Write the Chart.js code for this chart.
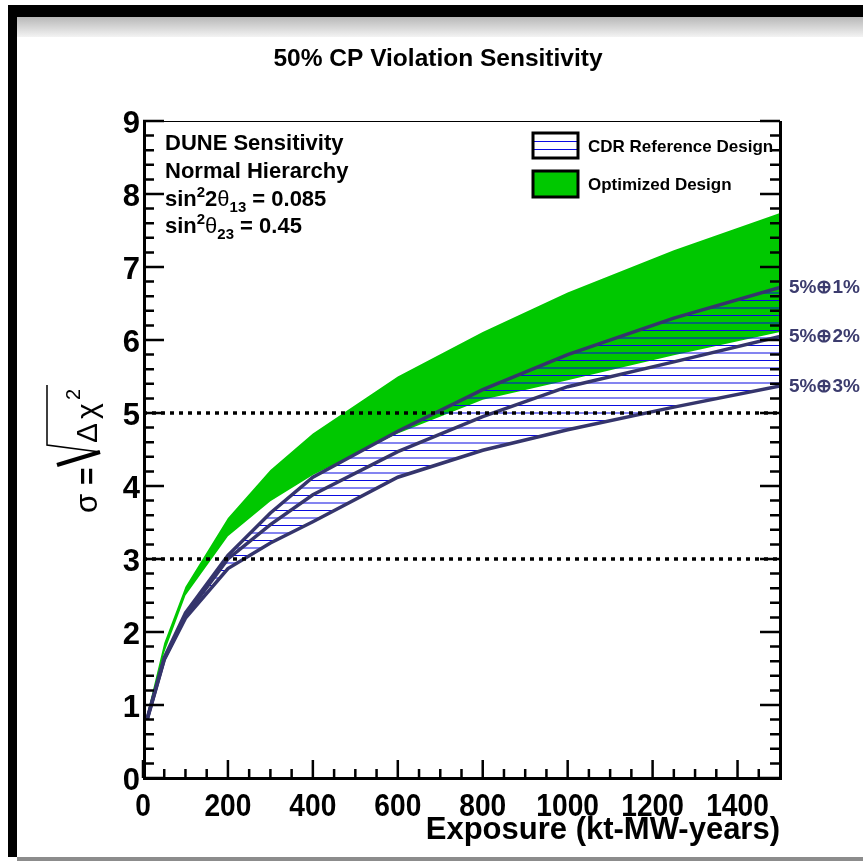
<!DOCTYPE html>
<html>
<head>
<meta charset="utf-8">
<script src="https://cdn.jsdelivr.net/npm/chart.js@4.4.1/dist/chart.umd.min.js"></script>
<style>
  html, body { margin: 0; padding: 0; background: #fff; }
</style>
</head>
<body>
<canvas id="chart" width="863" height="865"></canvas>
<script>
// exposure in kt-MW-years
const exposure = [10, 50, 100, 200, 300, 400, 600, 800, 1000, 1250, 1500];
// CDR reference design, three systematics assumptions
const cdr1 = [0.82, 1.65, 2.26, 3.05, 3.63, 4.12, 4.75, 5.32, 5.80, 6.30, 6.72];
const cdr2 = [0.81, 1.63, 2.22, 3.00, 3.47, 3.88, 4.47, 4.95, 5.36, 5.70, 6.05];
const cdr3 = [0.80, 1.62, 2.19, 2.87, 3.22, 3.51, 4.12, 4.49, 4.77, 5.08, 5.37];
// optimized design band
const optHigh = [0.88, 1.85, 2.62, 3.56, 4.22, 4.72, 5.50, 6.11, 6.65, 7.23, 7.74];
const optLow = [0.85, 1.72, 2.50, 3.31, 3.79, 4.15, 4.72, 5.18, 5.45, 5.79, 6.11];
// dotted reference levels
const refLevels = [3, 5];
const xTicks = [0, 200, 400, 600, 800, 1000, 1200, 1400];
const yTicks = [0, 1, 2, 3, 4, 5, 6, 7, 8, 9];
const curveLabels = ['5%\u22951%', '5%\u22952%', '5%\u22953%'];

const NAVY = '#35356c';
const GREEN = '#00c800';
const HATCH = 'rgb(10,10,225)';
const FONT = '"Liberation Sans", Arial, Helvetica, sans-serif';

const pts = (ys) => exposure.map((x, i) => ({ x: x, y: ys[i] }));

function makeHatch() {
  const p = document.createElement('canvas');
  p.width = 8; p.height = 15;
  const g = p.getContext('2d');
  g.fillStyle = HATCH;
  g.fillRect(0, 0, 8, 1);
  g.fillRect(0, 7.5, 8, 1);
  return g.createPattern(p, 'repeat');
}

function richText(c, parts, x, y, size) {
  let cx = x;
  parts.forEach(p => {
    let s = size, dy = 0;
    if (p.sup) { s = size * 0.68; dy = -size * 0.42; }
    if (p.sub) { s = size * 0.68; dy = size * 0.28; }
    c.font = (p.regular ? '' : 'bold ') + s + 'px ' + FONT;
    c.fillText(p.t, cx, y + dy);
    cx += c.measureText(p.t).width;
  });
}

// narrow text, the reference labels look slightly condensed
function narrowText(c, s, x, y, sx) {
  c.save();
  c.translate(x, y);
  c.scale(sx, 1);
  c.fillText(s, 0, 0);
  c.restore();
}

const rootFrame = {
  id: 'rootFrame',
  beforeDraw(chart) {
    const c = chart.ctx;
    c.save();
    c.fillStyle = '#fff';
    c.fillRect(0, 0, chart.width, chart.height);
    const g = c.createLinearGradient(0, 17, 0, 37);
    g.addColorStop(0, '#b8b8b8');
    g.addColorStop(1, '#f3f3f3');
    c.fillStyle = g;
    c.fillRect(17, 17, chart.width - 17, 20);
    c.fillStyle = '#000';
    c.fillRect(8, 5, chart.width - 8, 12);
    c.fillRect(8, 5, 9, 852);
    c.fillStyle = '#8c8c8c';
    c.fillRect(17, 857, chart.width - 17, 4);
    c.restore();
  },
  afterDatasetsDraw(chart) {
    const c = chart.ctx;
    const { left, right, top, bottom } = chart.chartArea;
    const xs = chart.scales.x, ys = chart.scales.y;
    c.save();
    c.strokeStyle = '#000';
    c.fillStyle = '#000';

    // frame
    c.lineWidth = 1;
    c.beginPath();
    c.moveTo(left, top + 0.5); c.lineTo(right + 1, top + 0.5);
    c.stroke();
    c.lineWidth = 3;
    c.beginPath();
    c.moveTo(left + 1.5, top); c.lineTo(left + 1.5, bottom + 2);
    c.moveTo(left, bottom + 0.5); c.lineTo(right + 2, bottom + 0.5);
    c.moveTo(right + 0.5, top); c.lineTo(right + 0.5, bottom + 2);
    c.stroke();

    // y ticks, left and right
    c.lineWidth = 2.5;
    c.beginPath();
    for (let i = 0; i < yTicks.length; i++) {
      const py = ys.getPixelForValue(yTicks[i]);
      c.moveTo(left, py); c.lineTo(left + 21, py);
      c.moveTo(right, py); c.lineTo(right - 20, py);
      if (i < yTicks.length - 1) {
        for (let k = 1; k < 5; k++) {
          const v = yTicks[i] + k * (yTicks[i + 1] - yTicks[i]) / 5;
          const pm = ys.getPixelForValue(v);
          c.moveTo(left, pm); c.lineTo(left + 11, pm);
          c.moveTo(right, pm); c.lineTo(right - 10, pm);
        }
      }
    }
    // x ticks
    for (let i = 0; i < xTicks.length; i++) {
      const px = xs.getPixelForValue(xTicks[i]);
      c.moveTo(px, bottom); c.lineTo(px, bottom - 18);
      const next = i < xTicks.length - 1 ? xTicks[i + 1] : xs.max;
      const step = (xTicks[1] - xTicks[0]) / 4;
      for (let v = xTicks[i] + step; v < next - 1e-6 && v <= xs.max; v += step) {
        const pm = xs.getPixelForValue(v);
        c.moveTo(pm, bottom); c.lineTo(pm, bottom - 9);
      }
    }
    c.stroke();

    // tick labels
    c.font = 'bold 31px ' + FONT;
    c.textAlign = 'right';
    c.textBaseline = 'alphabetic';
    yTicks.forEach(v => {
      c.fillText(String(v), left - 3, ys.getPixelForValue(v) + 12);
    });
    c.font = 'bold 32px ' + FONT;
    c.textAlign = 'center';
    xTicks.forEach(v => {
      narrowText(c, String(v), xs.getPixelForValue(v), bottom + 38, 0.88);
    });

    // axis title
    c.font = 'bold 31px ' + FONT;
    c.textAlign = 'right';
    c.fillText('Exposure (kt-MW-years)', right, bottom + 61);

    // y title: sigma = sqrt(Delta chi^2)
    c.save();
    c.translate(97, 513);
    c.rotate(-Math.PI / 2);
    c.textAlign = 'left';
    c.font = '31px ' + FONT;
    c.fillText('\u03c3', 0, 0);
    c.font = 'bold 30px ' + FONT;
    c.fillText('=', 28, 0);
    c.lineWidth = 4;
    c.beginPath();
    c.moveTo(48, -40); c.lineTo(61, 3);
    c.stroke();
    c.lineWidth = 1.5;
    c.beginPath();
    c.moveTo(61, 3); c.lineTo(68, -50); c.lineTo(128, -50);
    c.stroke();
    c.font = '30px ' + FONT;
    c.fillText('\u0394', 70, 0);
    c.fillText('\u03c7', 94, 0);
    c.font = '20px ' + FONT;
    c.fillText('2', 113, -17);
    c.restore();

    // title
    c.textAlign = 'center';
    c.font = 'bold 24.5px ' + FONT;
    c.fillText('50% CP Violation Sensitivity', 438, 66);

    // info text
    c.textAlign = 'left';
    c.font = 'bold 22px ' + FONT;
    c.fillText('DUNE Sensitivity', 165, 150);
    c.fillText('Normal Hierarchy', 165, 178);
    richText(c, [{ t: 'sin' }, { t: '2', sup: true }, { t: '2' }, { t: '\u03b8', regular: true },
      { t: '13', sub: true }, { t: ' = 0.085' }], 165, 206, 22);
    richText(c, [{ t: 'sin' }, { t: '2', sup: true }, { t: '\u03b8', regular: true },
      { t: '23', sub: true }, { t: ' = 0.45' }], 165, 233, 22);

    // legend
    c.fillStyle = '#fff';
    c.fillRect(533, 133, 45, 25);
    c.fillStyle = HATCH;
    c.fillRect(534, 141, 43, 1);
    c.fillRect(534, 149, 43, 1);
    c.fillStyle = GREEN;
    c.fillRect(533, 171, 45, 26);
    c.lineWidth = 3;
    c.strokeStyle = '#000';
    c.strokeRect(533, 133, 45, 25);
    c.strokeRect(533, 171, 45, 26);
    c.fillStyle = '#000';
    c.font = 'bold 17px ' + FONT;
    c.fillText('CDR Reference Design', 588, 152);
    c.fillText('Optimized Design', 588, 190);

    // curve labels at right edge
    c.fillStyle = '#3c3c6e';
    c.font = 'bold 19px ' + FONT;
    [cdr1, cdr2, cdr3].forEach((arr, i) => {
      const py = ys.getPixelForValue(arr[arr.length - 1]);
      c.fillText(curveLabels[i], right + 9, py + 6);
    });
    c.restore();
  }
};

const refSets = refLevels.map(v => ({
  data: [{ x: 0, y: v }, { x: 1500, y: v }],
  borderColor: '#000',
  borderWidth: 3.5,
  borderDash: [4, 5],
  pointRadius: 0,
  fill: false
}));

new Chart(document.getElementById('chart'), {
  type: 'line',
  data: {
    datasets: [
      ...refSets,
      { label: '5%+1%', data: pts(cdr1), borderColor: NAVY, borderWidth: 3.5, pointRadius: 0,
        fill: '+2', backgroundColor: makeHatch(), tension: 0 },
      { label: '5%+2%', data: pts(cdr2), borderColor: NAVY, borderWidth: 3.5, pointRadius: 0,
        fill: false, tension: 0 },
      { label: '5%+3%', data: pts(cdr3), borderColor: NAVY, borderWidth: 3.5, pointRadius: 0,
        fill: false, tension: 0 },
      { label: 'Optimized Design', data: pts(optHigh), borderColor: 'rgba(0,0,0,0)', borderWidth: 1,
        pointRadius: 0, fill: '+1', backgroundColor: GREEN, tension: 0 },
      { label: 'opt low', data: pts(optLow), borderColor: 'rgba(0,0,0,0)', borderWidth: 1,
        pointRadius: 0, fill: false, tension: 0 }
    ]
  },
  options: {
    responsive: false,
    animation: false,
    devicePixelRatio: 1,
    layout: { padding: { left: 143, right: 83, top: 121, bottom: 87 } },
    scales: {
      x: { type: 'linear', min: 0, max: 1500, display: false },
      y: { min: 0, max: 9, display: false }
    },
    plugins: {
      legend: { display: false },
      tooltip: { enabled: false },
      filler: { propagate: false, drawTime: 'beforeDatasetsDraw' }
    }
  },
  plugins: [rootFrame]
});
</script>
</body>
</html>
